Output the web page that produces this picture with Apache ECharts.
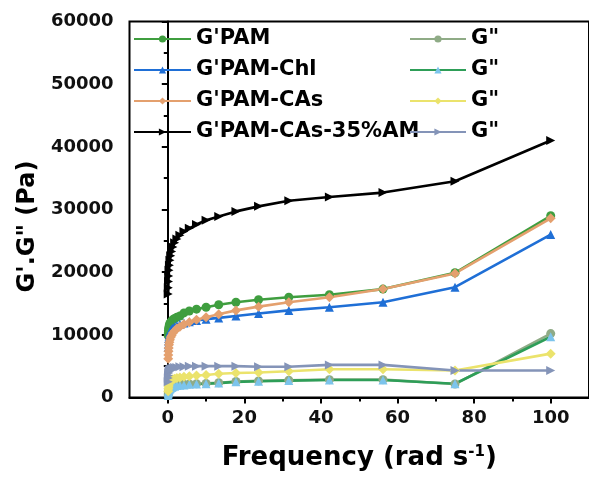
<!DOCTYPE html>
<html>
<head>
<meta charset="utf-8">
<script src="https://cdn.jsdelivr.net/npm/echarts@6/dist/echarts.min.js"></script>
<style>
  html, body { margin: 0; padding: 0; background: #ffffff; }
  #chart { width: 589px; height: 483px; }
</style>
</head>
<body>
<div id="chart"></div>
<script>
// Frequency sweep, rad/s (8 points per decade)
const freq = [0.1, 0.133, 0.178, 0.237, 0.316, 0.422, 0.562, 0.75, 1, 1.33, 1.78, 2.37, 3.16,
              4.22, 5.62, 7.5, 10, 13.3, 17.8, 23.7, 31.6, 42.2, 56.2, 75, 100];

// Storage modulus G' (Pa)
const gStorePAM = [9900, 10300, 10700, 11000, 11300, 11600, 11800, 12000, 12200, 12400, 12600, 12800, 13000,
                   13500, 13800, 14100, 14400, 14800, 15200, 15600, 16000, 16400, 17300, 19900, 29000];
const gStoreChl = [8000, 8500, 9000, 9400, 9800, 10100, 10400, 10700, 10900, 11100, 11300, 11500, 11700,
                   11900, 12100, 12300, 12500, 12700, 13000, 13400, 13900, 14400, 15200, 17600, 26000];
const gStoreCAs = [6200, 6800, 7400, 7900, 8400, 8800, 9200, 9600, 9900, 10300, 10600, 11000, 11300,
                   11700, 12000, 12400, 12800, 13300, 13900, 14500, 15200, 16000, 17300, 19800, 28600];
const gStoreCAs35 = [16500, 17500, 18500, 19400, 20300, 21100, 21900, 22600, 23300, 24000, 24700, 25300, 25900,
                     26500, 27000, 27600, 28300, 28900, 29700, 30500, 31400, 32000, 32700, 34500, 41000];

// Loss modulus G" (Pa)
const gLossPAM = [400, 700, 900, 1100, 1300, 1400, 1500, 1600, 1700, 1800, 1900, 2000, 2050,
                  2100, 2150, 2200, 2250, 2350, 2550, 2650, 2750, 2850, 2850, 2150, 10200];
const gLossChl = [300, 600, 800, 1000, 1200, 1300, 1400, 1500, 1600, 1700, 1800, 1900, 1950,
                  2000, 2100, 2150, 2200, 2300, 2500, 2600, 2700, 2800, 2800, 2200, 9700];
const gLossCAs = [1000, 1400, 1700, 2000, 2200, 2400, 2600, 2700, 2800, 2900, 3000, 3100, 3200,
                  3300, 3400, 3500, 3600, 3800, 3900, 4000, 4200, 4500, 4500, 4300, 7000];
const gLossCAs35 = [2500, 3100, 3500, 3900, 4100, 4300, 4400, 4500, 4600, 4700, 4800, 4800, 4900,
                    4900, 5000, 5000, 5000, 5000, 5000, 4900, 4900, 5200, 5200, 4300, 4300];

// Axis ticks
const xMajorTicks = [0, 20, 40, 60, 80, 100];
const xMinorTicks = [10, 30, 50, 70, 90];

const FONT = 'DejaVu Sans';
const pairs = vals => freq.map((f, i) => [f, vals[i]]);

function lineSeries(name, vals, color, symbol, opts) {
  opts = opts || {};
  return {
    name: name,
    type: 'line',
    data: pairs(vals),
    symbol: symbol,
    symbolSize: opts.size || 9,
    symbolRotate: opts.rotate || 0,
    showSymbol: true,
    lineStyle: { color: color, width: 2.6 },
    itemStyle: { color: opts.marker || color, borderWidth: 0 },
    emphasis: { disabled: true },
    animation: false,
    z: opts.z || 2
  };
}

const series = [
  lineSeries("G'PAM", gStorePAM, '#3f9e3f', 'circle'),
  lineSeries("G'PAM-Chl", gStoreChl, '#1f6fd6', 'triangle'),
  lineSeries("G'PAM-CAs", gStoreCAs, '#e4a06e', 'diamond', { size: 10 }),
  lineSeries("G'PAM-CAs-35%AM", gStoreCAs35, '#000000', 'triangle', { rotate: -90 }),
  lineSeries('G"PAM', gLossPAM, '#8fab86', 'circle'),
  lineSeries('G"PAM-Chl', gLossChl, '#2e9e58', 'triangle', { marker: '#7cc4ec' }),
  lineSeries('G"PAM-CAs', gLossCAs, '#ebe36c', 'diamond', { size: 10 }),
  lineSeries('G"PAM-CAs-35%AM', gLossCAs35, '#8494b8', 'triangle', { rotate: -90 })
];

const legendText = { fontFamily: FONT, fontWeight: 'bold', fontSize: 21, color: '#000', lineHeight: 21 };

const option = {
  backgroundColor: '#ffffff',
  animation: false,
  grid: {
    left: 129.5, right: -3, top: 21.5, bottom: 85.5,
    show: true, borderColor: '#000', borderWidth: 2, backgroundColor: 'transparent'
  },
  legend: [
    {
      data: ["G'PAM", "G'PAM-Chl", "G'PAM-CAs", "G'PAM-CAs-35%AM"],
      orient: 'vertical', left: 133, top: 28.5, padding: 0,
      itemWidth: 57, itemHeight: 9, itemGap: 10,
      textStyle: legendText, selectedMode: false
    },
    {
      data: ['G"PAM', 'G"PAM-Chl', 'G"PAM-CAs', 'G"PAM-CAs-35%AM'],
      orient: 'vertical', left: 409, top: 28.5, padding: 0,
      itemWidth: 56, itemHeight: 9, itemGap: 10,
      formatter: () => 'G"',
      textStyle: legendText, selectedMode: false
    }
  ],
  xAxis: [
    {
      type: 'value', min: -10, max: 110,
      splitLine: { show: false },
      axisLine: { lineStyle: { color: '#000', width: 2 } },
      axisTick: { show: true, customValues: xMajorTicks, length: 6, inside: false,
                  lineStyle: { color: '#000', width: 2 } },
      axisLabel: { customValues: xMajorTicks, margin: 12,
                   fontFamily: FONT, fontWeight: 'bold', fontSize: 18, color: '#111' },
      name: 'Frequency (rad s{sup|-1})',
      nameLocation: 'middle', nameGap: 47,
      nameTextStyle: {
        fontFamily: FONT, fontWeight: 'bold', fontSize: 26, color: '#000',
        rich: { sup: { fontFamily: FONT, fontWeight: 'bold', fontSize: 15, color: '#000',
                       verticalAlign: 'top', padding: [0, 0, 12, 0] } }
      }
    },
    {
      type: 'value', min: -10, max: 110, position: 'bottom',
      splitLine: { show: false },
      axisLine: { show: false },
      axisTick: { show: true, customValues: xMinorTicks, length: 4,
                  lineStyle: { color: '#000', width: 2 } },
      axisLabel: { show: false }
    }
  ],
  yAxis: {
    type: 'value', min: 0, max: 60000, interval: 10000,
    splitLine: { show: false },
    axisLine: { show: true, lineStyle: { color: '#000', width: 2 } },
    axisTick: { show: true, length: 6, lineStyle: { color: '#000', width: 2 } },
    minorTick: { show: true, splitNumber: 2, length: 4, lineStyle: { color: '#000', width: 2 } },
    axisLabel: { margin: 16, fontFamily: FONT, fontWeight: 'bold', fontSize: 18, color: '#111',
                 formatter: v => String(v) },
    name: 'G\'.G" (Pa)',
    nameLocation: 'middle', nameGap: 89, nameRotate: 90,
    nameTextStyle: { fontFamily: FONT, fontWeight: 'bold', fontSize: 24, color: '#000',
                     padding: [0, 34, 0, 0] }
  },
  series: series
};

const chart = echarts.init(document.getElementById('chart'), null, { renderer: 'canvas' });
chart.setOption(option);
</script>
</body>
</html>
